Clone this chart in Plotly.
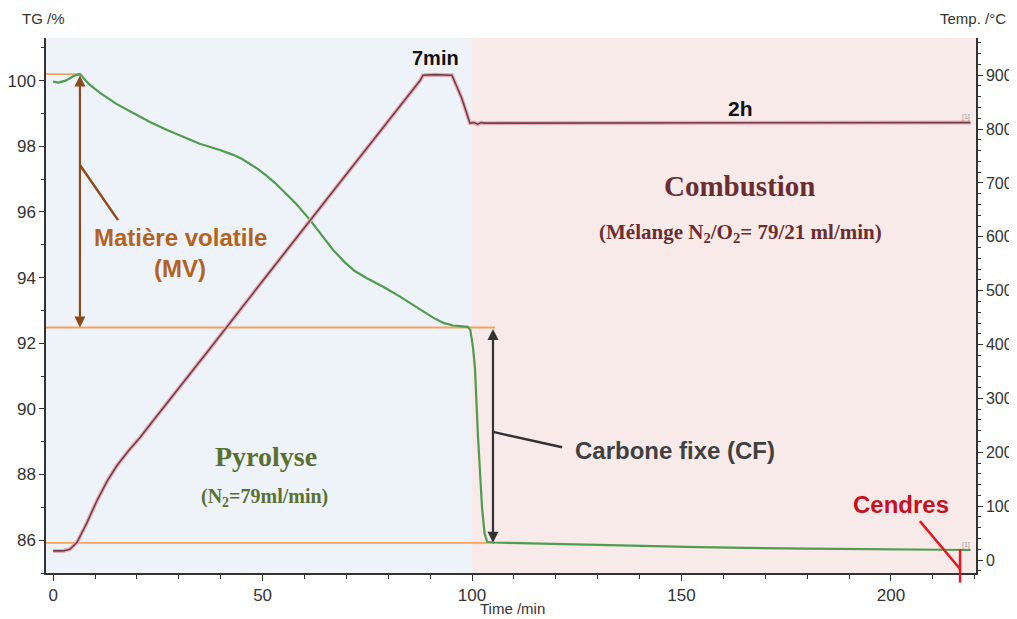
import plotly.graph_objects as go

# thermogravimetric curve (TG, left axis)
time_tg = [0, 1.2, 3, 5, 6.4, 8.5, 11.2, 15, 19, 23, 27.2, 31, 35, 40, 43, 45, 47, 49, 51, 53,
           55, 58, 61.3, 64, 66.8, 69.5, 72, 74.9, 78.8, 82.8, 86.8, 90.7, 93.2, 95.5, 99, 99.6,
           100.2, 100.7, 101.4, 102.4, 103.0, 103.6, 105, 130, 154, 180, 200, 219]
tg = [99.97, 99.94, 100.0, 100.15, 100.2, 99.9, 99.63, 99.3, 99.02, 98.75, 98.5, 98.3, 98.08,
      97.88, 97.74, 97.62, 97.47, 97.3, 97.1, 96.88, 96.63, 96.25, 95.76, 95.3, 94.85, 94.48,
      94.2, 93.98, 93.72, 93.42, 93.1, 92.78, 92.62, 92.54, 92.5, 92.4, 91.9, 91.25, 89.2,
      86.97, 86.2, 85.95, 85.93, 85.85, 85.79, 85.74, 85.71, 85.70]

# furnace temperature (right axis)
time_temp = [0, 2.4, 4, 5.7, 8, 10.5, 13, 15.3, 18, 20.8, 24, 27.9, 37.5, 50, 61.3, 70, 80,
             87.6, 88.3, 91, 95.2, 97.5, 99.5, 100.5, 101.3, 102.2, 103, 150, 219]
temp = [17, 17, 20, 33, 68, 111, 148, 176, 203, 228, 260, 298, 393, 518, 629, 716, 815,
        890, 900, 901, 900, 858, 811, 812, 809, 812, 811, 811, 812]

# reference levels
mv_top = 100.2
cf_top = 92.48
ash = 85.92
phase_change = 100

x_range = [-1.7, 220.3]
y_range = [85.0, 101.3]
y2_range = [-24, 969]

fig = go.Figure()

fig.add_trace(go.Scatter(x=time_temp, y=temp, yaxis="y2", mode="lines",
                         line=dict(color="#E8AEB5", width=4), hoverinfo="skip"))
fig.add_trace(go.Scatter(x=time_temp, y=temp, yaxis="y2", mode="lines",
                         line=dict(color="#73404A", width=1.6)))
fig.add_trace(go.Scatter(x=time_tg, y=tg, mode="lines",
                         line=dict(color="#4F9B50", width=2.2)))

shapes = []
# phase backgrounds
shapes.append(dict(type="rect", xref="x", yref="paper", x0=x_range[0], x1=phase_change, y0=0, y1=1,
                   fillcolor="#EEF3FA", line_width=0, layer="below"))
shapes.append(dict(type="rect", xref="x", yref="paper", x0=phase_change, x1=x_range[1], y0=0, y1=1,
                   fillcolor="#F9EAEA", line_width=0, layer="below"))
# orange reference lines
orange = "#F5A25E"
shapes.append(dict(type="line", xref="x", yref="y", x0=x_range[0], x1=6.4, y0=mv_top, y1=mv_top,
                   line=dict(color=orange, width=1.8), layer="below"))
shapes.append(dict(type="line", xref="x", yref="y", x0=x_range[0], x1=105.5, y0=cf_top, y1=cf_top,
                   line=dict(color=orange, width=1.8), layer="below"))
shapes.append(dict(type="line", xref="x", yref="y", x0=x_range[0], x1=105.5, y0=ash, y1=ash,
                   line=dict(color=orange, width=1.8), layer="below"))
# leader lines
shapes.append(dict(type="line", xref="x", yref="y", x0=6.4, y0=97.43, x1=15.5, y1=95.75,
                   line=dict(color="#8E4A1E", width=2.5)))
shapes.append(dict(type="line", xref="x", yref="y", x0=105, y0=89.3, x1=121.5, y1=88.83,
                   line=dict(color="#333333", width=2.5)))
red = "#E8161E"
shapes.append(dict(type="line", xref="x", yref="y", x0=206.9, y0=86.58, x1=216.5, y1=85.12,
                   line=dict(color=red, width=2.5)))
ash_end = 85.72
shapes.append(dict(type="line", xref="x", yref="paper", x0=216.5, x1=216.5,
                   y0=(ash_end - y_range[0]) / (y_range[1] - y_range[0]), y1=-0.018,
                   line=dict(color=red, width=2.5)))

annotations = []
# double arrows
annotations.append(dict(x=6.4, y=cf_top, ax=6.4, ay=mv_top, xref="x", yref="y", axref="x", ayref="y",
                        text="", showarrow=True, arrowhead=2, arrowsize=1, arrowwidth=2.2,
                        arrowside="end+start", arrowcolor="#8E4A1E"))
annotations.append(dict(x=105, y=ash, ax=105, ay=cf_top, xref="x", yref="y", axref="x", ayref="y",
                        text="", showarrow=True, arrowhead=2, arrowsize=1, arrowwidth=2.2,
                        arrowside="end+start", arrowcolor="#333333"))

sans = "Liberation Sans, Arial, sans-serif"
serif = "Liberation Serif, Times New Roman, serif"


def label(x, y, text, size, color, family=sans, yref="y"):
    annotations.append(dict(x=x, y=y, xref="x", yref=yref, text=text, showarrow=False,
                            font=dict(family=family, size=size, color=color),
                            xanchor="center", yanchor="middle"))


label(91.2, 100.70, "<b>7min</b>", 20, "#111111")
label(164, 99.14, "<b>2h</b>", 21, "#111111")
label(164, 96.79, "<b>Combustion</b>", 29, "#6B2D2F", serif)
label(164, 95.35, "<b>(Mélange N<sub>2</sub>/O<sub>2</sub>= 79/21 ml/min)</b>", 21, "#6B2D2F", serif)
label(50.8, 88.56, "<b>Pyrolyse</b>", 28, "#5A7032", serif)
label(50.4, 87.3, "<b>(N<sub>2</sub>=79ml/min)</b>", 20, "#5A7032", serif)
label(30.3, 95.23, "<b>Matière volatile</b>", 24, "#B4621F")
label(30.3, 94.28, "<b>(MV)</b>", 24, "#B4621F")
label(148.4, 88.72, "<b>Carbone fixe (CF)</b>", 24, "#404040")
label(202.4, 87.08, "<b>Cendres</b>", 24, "#C8101E")
label(217.9, 822, "[1]", 7, "#999999", yref="y2")
label(217.9, 85.84, "[1]", 7, "#999999")

# axis titles
title_font = dict(family=sans, size=15, color="#333333")
annotations.append(dict(x=-0.003, y=1.037, xref="paper", yref="paper", text="TG /%", showarrow=False,
                        font=title_font, xanchor="center", yanchor="middle"))
annotations.append(dict(x=1.034, y=1.037, xref="paper", yref="paper", text="Temp. /°C", showarrow=False,
                        font=title_font, xanchor="right", yanchor="middle"))
annotations.append(dict(x=0.502, y=-0.067, xref="paper", yref="paper", text="Time /min", showarrow=False,
                        font=title_font, xanchor="center", yanchor="middle"))

tickfont = dict(family=sans, size=17, color="#333333")
axis_common = dict(showgrid=False, zeroline=False, showline=True, linecolor="#333333", linewidth=1.5,
                   ticks="outside", tickcolor="#333333", automargin=False)
fig.update_layout(
    # page body has an 8px margin; size the figure so the plot area lands where the reference has it
    width=1009, height=611,
    margin=dict(l=38, r=41, t=30, b=46),
    paper_bgcolor="white", plot_bgcolor="white",
    showlegend=False,
    shapes=shapes, annotations=annotations,
    xaxis=dict(range=x_range, tickvals=[0, 50, 100, 150, 200], ticklen=6, tickfont=tickfont,
               **axis_common,
               minor=dict(dtick=10, tick0=0, ticks="outside", ticklen=4, tickcolor="#333333")),
    yaxis=dict(range=y_range, tickvals=[86, 88, 90, 92, 94, 96, 98, 100], ticklen=5,
               tickfont=tickfont, **axis_common,
               minor=dict(dtick=1, tick0=0, ticks="outside", ticklen=3, tickcolor="#333333")),
    yaxis2=dict(range=y2_range, overlaying="y", side="right", dtick=100, tick0=0, ticklen=5,
                tickfont=dict(family=sans, size=16, color="#333333"), **axis_common,
                minor=dict(dtick=20, tick0=0, ticks="outside", ticklen=3, tickcolor="#333333")),
)

fig.write_html("out.html")
